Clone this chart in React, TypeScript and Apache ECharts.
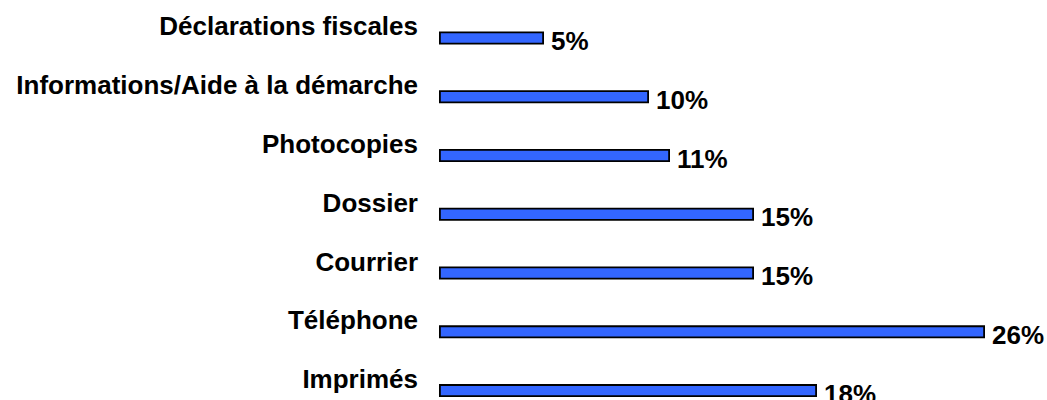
import React, { useEffect, useRef } from "react";
import * as echarts from "echarts";

const categories = [
  "Déclarations fiscales",
  "Informations/Aide à la démarche",
  "Photocopies",
  "Dossier",
  "Courrier",
  "Téléphone",
  "Imprimés",
];
const values = [5, 10, 11, 15, 15, 26, 18];

const FONT = "Arial, 'Liberation Sans', Helvetica, sans-serif";

export default function App() {
  const ref = useRef<HTMLDivElement>(null);
  useEffect(() => {
    if (!ref.current) return;
    const chart = echarts.init(ref.current, undefined, { renderer: "svg" });
    chart.setOption({
      animation: false,
      backgroundColor: "#ffffff",
      grid: { left: 439, right: 62, top: 8.6, bottom: 0, containLabel: false },
      xAxis: {
        type: "value",
        min: 0,
        max: 26,
        show: false,
        splitLine: { show: false },
      },
      yAxis: {
        type: "category",
        data: categories,
        inverse: true,
        axisLine: { show: false },
        axisTick: { show: false },
        axisLabel: {
          margin: 21,
          color: "#000000",
          fontFamily: FONT,
          fontWeight: "bold",
          fontSize: 26,
          lineHeight: 23,
          verticalAlign: "bottom",
        },
      },
      series: [
        {
          type: "bar",
          data: values,
          barWidth: 13,
          itemStyle: { color: "#3366FF", borderColor: "#000000", borderWidth: 1.8 },
          label: {
            show: true,
            position: "right",
            distance: 7,
            offset: [0, 3],
            formatter: "{c}%",
            color: "#000000",
            fontFamily: FONT,
            fontWeight: "bold",
            fontSize: 26,
          },
        },
      ],
    });
    return () => chart.dispose();
  }, []);
  return (
    <div style={{ position: "absolute", left: 0, top: 0, width: 1047, height: 400, overflow: "hidden" }}>
      <div ref={ref} style={{ width: 1047, height: 420.4 }} />
    </div>
  );
}
